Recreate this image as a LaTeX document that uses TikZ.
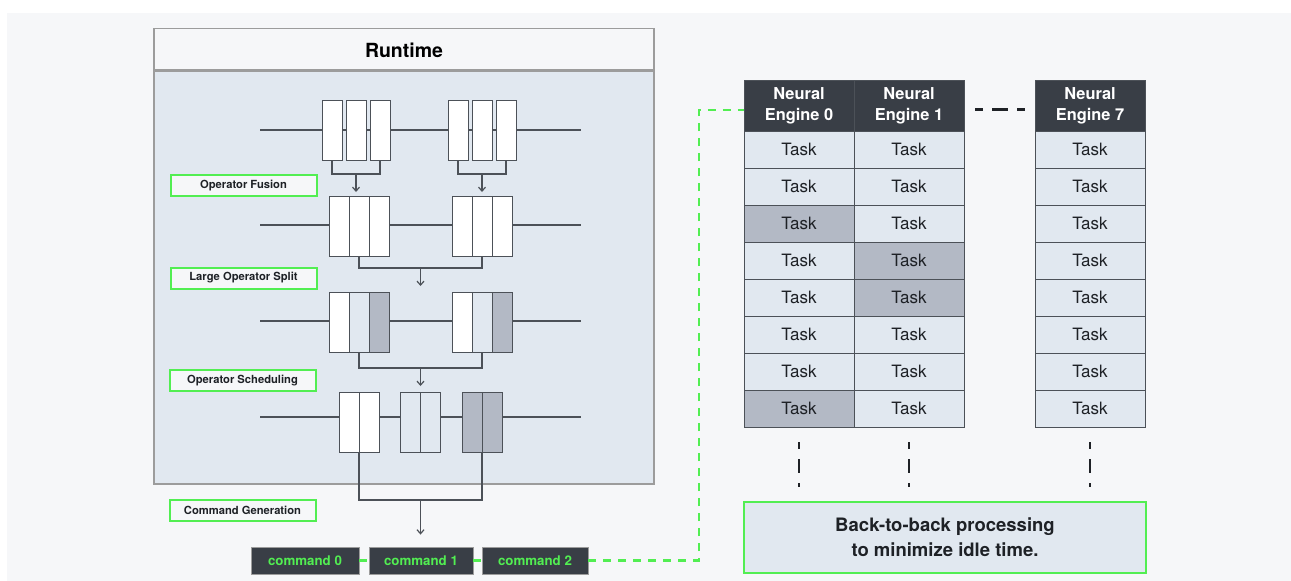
\documentclass[tikz,border=0pt]{standalone}
\usepackage{fontspec}
\setmainfont{TeX Gyre Heros}
\usepackage{xcolor}
\usepackage{tikz}
\usetikzlibrary{arrows.meta}
\usetikzlibrary{calc}
\usetikzlibrary{positioning}
\definecolor{bggray}{HTML}{F6F7F9}
\definecolor{panel}{HTML}{E1E8F0}
\definecolor{darkcell}{HTML}{B3B9C5}
\definecolor{headdark}{HTML}{393E46}
\definecolor{linegray}{HTML}{4C5158}
\definecolor{boxgray}{HTML}{9C9C9C}
\definecolor{brightgreen}{HTML}{52EE52}
\definecolor{textdark}{HTML}{1E2126}

\begin{document}
\begin{tikzpicture}[x=1pt,y=-1pt,
	>={Straight Barb[length=4pt,width=7pt]},
	wire/.style={draw=linegray,line width=1.2pt},
	cell/.style={draw=linegray,line width=1pt,minimum width=20pt,minimum height=60pt,inner sep=0pt,outer sep=0pt},
	stagelabel/.style={draw=brightgreen,line width=2pt,fill=bggray,minimum width=146pt,minimum height=21pt,inner sep=0pt,text=textdark,font=\fontsize{11.2}{13}\selectfont\bfseries},
	cmd/.style={draw=boxgray,line width=0.8pt,fill=headdark,minimum height=27pt,inner sep=0pt,text=brightgreen,font=\fontsize{13.3}{15}\selectfont\bfseries},
	headcell/.style={draw=linegray,line width=1pt,fill=headdark,minimum width=110pt,minimum height=51pt,inner sep=0pt,outer sep=0pt,align=center,text=white,font=\fontsize{16.4}{21}\selectfont\bfseries},
	taskcell/.style={draw=linegray,line width=1pt,fill=panel,minimum width=110pt,minimum height=37pt,inner sep=0pt,outer sep=0pt,text=textdark,font=\fontsize{17}{20}\selectfont},
	shade 03/.style={fill=darkcell},
	shade 08/.style={fill=darkcell},
	shade 14/.style={fill=darkcell},
	shade 15/.style={fill=darkcell},
	greendash/.style={draw=brightgreen,line width=2.6pt,dash pattern=on 8pt off 7pt},
	idledash/.style={draw=textdark,line width=1.8pt,dash pattern=on 14pt off 10pt,dash phase=7pt},
	note/.style={draw=brightgreen,line width=2.2pt,fill=panel,minimum width=402pt,minimum height=71pt,inner sep=0pt,align=center,text=textdark,font=\fontsize{18.5}{25}\selectfont\bfseries}]

	\useasboundingbox (0,0) rectangle (1291,581);
	\fill[white] (0,0) rectangle (1291,581);
	\fill[bggray] (7,13) rectangle (1291,581);

	% runtime panel
	\node[draw=boxgray,line width=1.2pt,fill=panel,minimum width=500pt,minimum height=413pt,inner sep=0pt] (body) at (404,277.5) {};
	\node[draw=boxgray,line width=1.2pt,fill=bggray,minimum width=500pt,minimum height=41pt,inner sep=0pt,text height=17pt,text depth=0pt,anchor=south,text=black,font=\fontsize{19.5}{22}\selectfont\bfseries] (runtime) at (body.north) {Runtime};

	\foreach \y [count=\i] in {130,225,321,417}{
		\coordinate (l\i) at (260,\y);
		\coordinate (r\i) at (581,\y);
		\draw[wire] (l\i) -- (r\i);
	}

	\foreach \x [count=\i] in {332,356,380,458,482,506}
		\node[cell,fill=white] (a\i) at (\x,130) {};
	\foreach \x [count=\i] in {339,359,379,462,482,502}
		\node[cell,fill=white] (b\i) at (\x,226) {};
	\foreach \x/\f [count=\i] in {339/white,359/panel,379/darkcell,462/white,482/panel,502/darkcell}
		\node[cell,fill=\f] (c\i) at (\x,322) {};
	\foreach \x/\f [count=\i] in {349/white,369/white,410/panel,430/panel,472/darkcell,492/darkcell}
		\node[cell,fill=\f] (d\i) at (\x,422) {};

	\draw[wire] (a1.south) -- ++(0,14) -| (a3.south);
	\draw[wire] (a4.south) -- ++(0,14) -| (a6.south);
	\draw[wire,->] ($(a2.south)+(0,14)$) -- ++(0,18);
	\draw[wire,->] ($(a5.south)+(0,14)$) -- ++(0,18);

	\draw[wire] (b2.south) -- ++(0,12) coordinate (m2) -| (b5.south);
	\draw[wire,->] ($(m2)!0.5!(m2 -| b5.south)$) -- ++(0,18);

	\draw[wire] (c2.south) -- ++(0,16) coordinate (m3) -| (c5.south);
	\draw[wire,->] ($(m3)!0.5!(m3 -| c5.south)$) -- ++(0,18);

	\node[cmd,minimum width=108pt] (cmd0) at (305,560.5) {command 0};
	\node[cmd,minimum width=104pt] (cmd1) at (421,560.5) {command 1};
	\node[cmd,minimum width=106pt] (cmd2) at (535,560.5) {command 2};

	\draw[wire] (d1.south east) -- ++(0,48) coordinate (m4) -| (d5.south east);
	\coordinate (m4c) at ($(m4)!0.5!(m4 -| d5.south east)$);
	\draw[wire,->,shorten >=12pt] (m4c) -- (m4c |- cmd1.north);

	\node[stagelabel] (fusion) at (243.5,185.5) {Operator Fusion};
	\node[stagelabel] (split) at (243.5,278) {Large Operator Split};
	\node[stagelabel] (sched) at (242.5,380.5) {Operator Scheduling};
	\node[stagelabel] (cmdgen) at (242.5,510.5) {Command Generation};

	% neural engines
	\foreach \x/\n in {799/0,909/1,1090/7}
		\node[headcell] (h\n) at (\x,105.5) {Neural\\Engine \n};
	\foreach \c/\x in {0/799,1/909,7/1090}
		\foreach \r in {1,...,8}
			\node[taskcell,shade \c\r/.try] (t\c\r) at (\x,{112.5+37*\r}) {Task};

	\draw[idledash,line width=2.2pt,dash pattern=on 16pt off 9pt,dash phase=8pt,shorten <=11pt,shorten >=10pt] ($(h1.east)+(0,4)$) -- ($(h7.west)+(0,4)$);

	\node[note] (note) at (945,537.5) {Back-to-back processing\\to minimize idle time.};

	\foreach \c in {0,1,7}
		\draw[idledash,shorten <=15pt,shorten >=14pt] (t\c8.south) -- (t\c8.south |- note.north);

	\coordinate (turn) at (699,110);
	\draw[greendash] (cmd0) -- (cmd1);
	\draw[greendash] (cmd1) -- (cmd2);
	\draw[greendash] (cmd2.east) -| (turn) -- (turn -| h0.west);

\end{tikzpicture}
\end{document}
